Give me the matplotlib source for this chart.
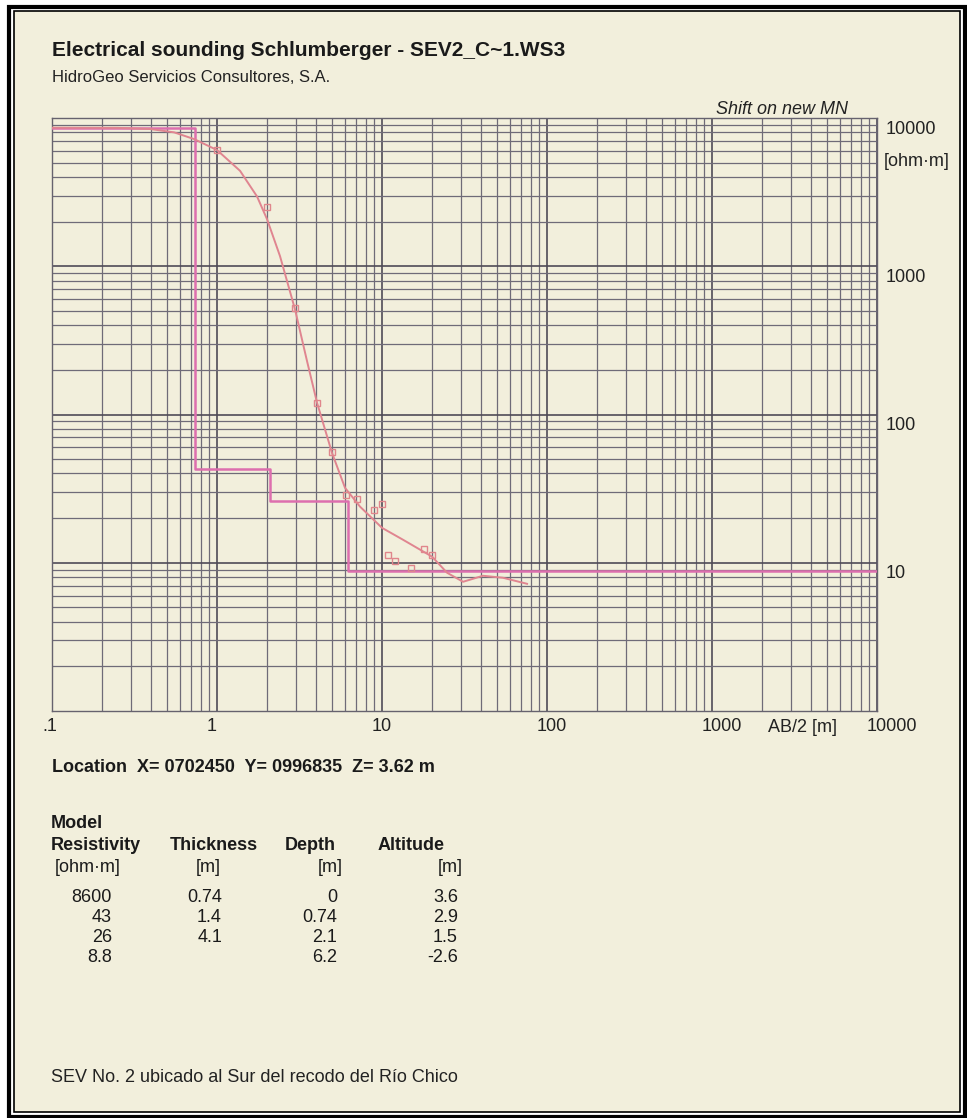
import matplotlib
matplotlib.use("Agg")
import matplotlib.pyplot as plt
import matplotlib.transforms as mtransforms
from matplotlib.patches import Rectangle
from matplotlib.ticker import LogLocator, NullFormatter, FixedLocator

plt.rcParams['font.family'] = ['Liberation Sans', 'DejaVu Sans']

# ---------------- data ----------------
# layered model (resistivity, thickness)
model_res = [8600, 43, 26, 8.8]
model_thk = [0.74, 1.4, 4.1]
model_depth = [0, 0.74, 2.1, 6.2]
model_alt = [3.6, 2.9, 1.5, -2.6]

# field measurements (AB/2 [m], apparent resistivity [ohm.m])
obs_ab2 = [1.0, 2.0, 2.97, 4.04, 4.98, 6.05, 7.05, 8.9, 10.0, 10.9, 12.0, 15.0, 18.0, 20.1]
obs_rho = [6080, 2500, 520, 120, 56, 28.8, 27.1, 22.8, 25.0, 11.3, 10.3, 9.25, 12.4, 11.3]

# computed model response curve
calc_ab2 = [0.1, 0.25, 0.393, 0.55, 0.726, 1.0, 1.38, 1.75, 2.01, 2.41, 2.97, 3.51, 4.04,
            4.98, 5.97, 7.36, 10.0, 13.4, 20.1, 24.8, 31.0, 40.9, 54.1, 75.7]
calc_rho = [8600, 8580, 8430, 8000, 7210, 6080, 4400, 2950, 2078, 1169, 512, 230, 120,
            55, 32, 23.9, 17.2, 14.3, 11.0, 8.56, 7.44, 8.17, 7.92, 7.21]

x_ticks = [0.1, 1, 10, 100, 1000, 10000]
x_tick_labels = ['.1', '1', '10', '100', '1000', '10000']
y_ticks = [10, 100, 1000, 10000]
y_tick_labels = ['10', '100', '1000', '10000']

title = "Electrical sounding Schlumberger - SEV2_C~1.WS3"
subtitle = "HidroGeo Servicios Consultores, S.A."
location = "Location  X= 0702450  Y= 0996835  Z= 3.62 m"
footer = "SEV No. 2 ubicado al Sur del recodo del R\u00edo Chico"

# ---------------- figure ----------------
W, H = 967, 1118
fig = plt.figure(figsize=(W / 100, H / 100), dpi=100, facecolor='white')

def fx(px):
    return px / W

def fy(py):
    return 1 - py / H

BG = '#f2efdc'
# page / frame
fig.patches.append(Rectangle((fx(13.5), fy(1112)), fx(960 - 13.5), fy(11) - fy(1112),
                             transform=fig.transFigure, facecolor=BG, edgecolor='black',
                             lw=1.2, zorder=-2))
fig.patches.append(Rectangle((fx(9), fy(1116.5)), fx(965 - 9), fy(6.5) - fy(1116.5),
                             transform=fig.transFigure, facecolor='none', edgecolor='black',
                             lw=3.0, zorder=-2))

# axes: x .1..10000 at px 52..877, y 1..10000 at py 711..118
ax = fig.add_axes([fx(52), fy(711), fx(877 - 52), fy(118) - fy(711)])
ax.set_facecolor(BG)
ax.set_xscale('log')
ax.set_yscale('log')
ax.set_xlim(0.1, 10000)
ax.set_ylim(1, 10000)

ax.xaxis.set_major_locator(FixedLocator(x_ticks))
ax.yaxis.set_major_locator(FixedLocator(y_ticks))
ax.xaxis.set_minor_locator(LogLocator(base=10, subs=range(2, 10), numticks=20))
ax.yaxis.set_minor_locator(LogLocator(base=10, subs=range(2, 10), numticks=20))
ax.xaxis.set_minor_formatter(NullFormatter())
ax.yaxis.set_minor_formatter(NullFormatter())
ax.set_xticklabels(x_tick_labels)
ax.set_yticklabels(y_tick_labels)

ax.grid(which='major', color='#4f4b57', lw=1.2)
ax.grid(which='minor', color='#6f6b78', lw=0.9)
ax.set_axisbelow(True)
for s in ax.spines.values():
    s.set_color('#66626e')
    s.set_linewidth(1.0)

ax.tick_params(which='both', length=0)
ax.tick_params(axis='x', labelsize=13, colors='#222222', pad=5)
ax.tick_params(axis='y', labelsize=13, colors='#222222', left=False, labelleft=False,
               right=False, labelright=True, pad=6.5)
for lab in ax.get_xticklabels():
    lab.set_horizontalalignment('left')
    lab.set_transform(lab.get_transform() +
                      mtransforms.ScaledTranslation(-10 / 100, 0, fig.dpi_scale_trans))
for lab in ax.get_yticklabels():
    lab.set_transform(lab.get_transform() +
                      mtransforms.ScaledTranslation(0, -9 / 100, fig.dpi_scale_trans))

# model step curve
step_x = [0.1]
step_y = [model_res[0]]
for i, d in enumerate(model_depth[1:]):
    step_x += [d, d]
    step_y += [model_res[i], model_res[i + 1]]
step_x.append(10000)
step_y.append(model_res[-1])
ax.plot(step_x, step_y, color='#dd6fae', lw=1.8, zorder=3)

# computed curve
ax.plot(calc_ab2, calc_rho, color='#e08590', lw=1.4, zorder=4)
# observations
ax.plot(obs_ab2, obs_rho, ls='none', marker='s', ms=5, mfc='none', mec='#e0868c',
        mew=1.0, zorder=5)

# texts
fig.text(fx(52), fy(50), title, fontsize=15, fontweight='bold', va='center', ha='left',
         color='#1a1a1a')
fig.text(fx(52), fy(78), subtitle, fontsize=12, va='center', ha='left', color='#222222')
fig.text(fx(848), fy(109), "Shift on new MN", fontsize=13, style='italic', va='center',
         ha='right', color='#222222')
fig.text(fx(884), fy(162), "[ohm\u00b7m]", fontsize=13, va='center', ha='left', color='#222222')
fig.text(fx(768), fy(727), "AB/2 [m]", fontsize=13, va='center', ha='left', color='#222222')

fig.text(fx(52), fy(767), location, fontsize=13, fontweight='bold', va='center', ha='left',
         color='#1a1a1a')

# table
tk = dict(fontsize=13, va='center', color='#1a1a1a')
fig.text(fx(51), fy(823), "Model", fontweight='bold', ha='left', **tk)
fig.text(fx(51), fy(845), "Resistivity", fontweight='bold', ha='left', **tk)
fig.text(fx(170), fy(845), "Thickness", fontweight='bold', ha='left', **tk)
fig.text(fx(285), fy(845), "Depth", fontweight='bold', ha='left', **tk)
fig.text(fx(378), fy(845), "Altitude", fontweight='bold', ha='left', **tk)
fig.text(fx(55), fy(867), "[ohm\u00b7m]", ha='left', **tk)
fig.text(fx(208), fy(867), "[m]", ha='center', **tk)
fig.text(fx(343), fy(867), "[m]", ha='right', **tk)
fig.text(fx(463), fy(867), "[m]", ha='right', **tk)

row_y = [897, 917, 938, 958]

def fmt(v):
    return ('%g' % v)

for i in range(len(model_res)):
    fig.text(fx(112), fy(row_y[i]), fmt(model_res[i]), ha='right', **tk)
    if i < len(model_thk):
        fig.text(fx(222), fy(row_y[i]), fmt(model_thk[i]), ha='right', **tk)
    fig.text(fx(337), fy(row_y[i]), fmt(model_depth[i]), ha='right', **tk)
    fig.text(fx(458), fy(row_y[i]), fmt(model_alt[i]), ha='right', **tk)

fig.text(fx(51), fy(1077), footer, fontsize=13, va='center', ha='left', color='#222222')

fig.savefig('out.png', dpi=100, facecolor='white')
